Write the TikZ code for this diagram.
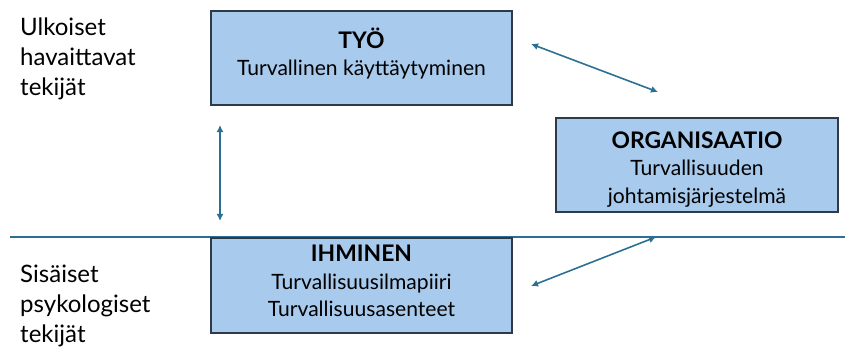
\documentclass[tikz,border=0pt]{standalone}
\usepackage{fontspec}
\setmainfont{Lato}
\usetikzlibrary{arrows.meta}
\definecolor{boxfill}{HTML}{A8CAEC}
\definecolor{boxline}{HTML}{2E3A48}
\definecolor{linkblue}{HTML}{2B6F93}
\tikzset{
  areabox/.style={draw=boxline, line width=1.3pt, fill=boxfill, inner sep=0pt},
  boxtext/.style={inner sep=0pt, align=center, font=\fontsize{18}{23.5}\selectfont},
  sidetext/.style={anchor=north west, inner sep=0pt, align=left, font=\fontsize{20.5}{25.6}\selectfont},
  link/.style={linkblue, line width=1.35pt, {Latex[length=6pt,width=6pt]}-{Latex[length=6pt,width=6pt]}}
}
\newcommand{\boxtitle}[1]{{\fontsize{19.5}{23.5}\selectfont\bfseries #1}}
\begin{document}
\begin{tikzpicture}[x=0.03cm, y=-0.03cm]
      \useasboundingbox (0,0) rectangle (845,347);

      \node[sidetext] (outer) at (20,18) {Ulkoiset\\havaittavat\\tekijät};
      \node[sidetext] (inner) at (20,265) {Sisäiset\\psykologiset\\tekijät};

      \coordinate (sepL) at (10,237);
      \coordinate (sepR) at (845,237);
      \draw[linkblue, line width=1.35pt] (sepL) -- (sepR);

      % boxes
      \node[areabox, minimum width=301*0.03cm, minimum height=94*0.03cm] (tyo) at (361.5,58) {};
      \node[areabox, minimum width=282*0.03cm, minimum height=94*0.03cm] (org) at (697,165) {};
      \node[areabox, minimum width=301*0.03cm, minimum height=95*0.03cm] (ihminen) at (361.5,285.5) {};

      \node[boxtext] (tyoText) at (361.5,53.5) {\boxtitle{TYÖ}\\Turvallinen käyttäytyminen};
      \node[boxtext] (orgText) at (697,169.5) {\boxtitle{ORGANISAATIO}\\Turvallisuuden\\johtamisjärjestelmä};
      \node[boxtext] (ihminenText) at (361.5,281) {\boxtitle{IHMINEN}\\Turvallisuusilmapiiri\\Turvallisuusasenteet};

      \coordinate (tyoS) at (220,125);
      \coordinate (ihmN) at (220,221);
      \coordinate (tyoE) at (531,44);
      \coordinate (orgNW) at (658,92);
      \coordinate (orgSW) at (656,237);
      \coordinate (ihmE) at (531,286);

      \draw[link] (tyoS) -- (ihmN);
      \draw[link] (tyoE) -- (orgNW);
      \draw[link] (orgSW) -- (ihmE);
\end{tikzpicture}
\end{document}
